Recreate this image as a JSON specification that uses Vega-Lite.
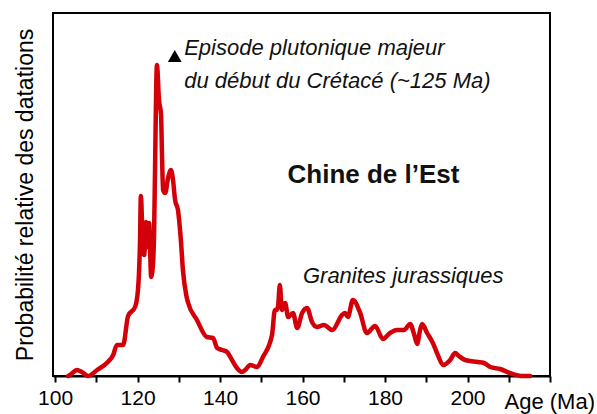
{
  "$schema": "https://vega.github.io/schema/vega-lite/v6.json",
  "width": 497,
  "height": 363,
  "autosize": {"type": "none"},
  "padding": {"left": 53, "top": 13, "right": 47, "bottom": 38},
  "background": "white",
  "config": {
    "view": {"stroke": "black", "strokeWidth": 2},
    "font": "Liberation Sans"
  },
  "datasets": {
    "curve": [
      {"age": 103.2, "p": 0}, {"age": 103.6, "p": 1}, {"age": 104.8, "p": 5}, {"age": 105.3, "p": 6},
      {"age": 106.5, "p": 4}, {"age": 108.0, "p": 0}, {"age": 110.2, "p": 6}, {"age": 112.8, "p": 14},
      {"age": 114.1, "p": 21}, {"age": 115.0, "p": 31}, {"age": 116.5, "p": 31}, {"age": 117.7, "p": 60},
      {"age": 119.4, "p": 69}, {"age": 120.1, "p": 86}, {"age": 120.6, "p": 136}, {"age": 120.8, "p": 180},
      {"age": 121.3, "p": 129}, {"age": 121.6, "p": 121}, {"age": 122.1, "p": 154}, {"age": 122.5, "p": 129},
      {"age": 122.8, "p": 153}, {"age": 123.3, "p": 99}, {"age": 123.8, "p": 116}, {"age": 124.0, "p": 141},
      {"age": 124.2, "p": 196}, {"age": 124.7, "p": 311}, {"age": 125.2, "p": 276}, {"age": 125.7, "p": 261},
      {"age": 125.9, "p": 226}, {"age": 126.2, "p": 186}, {"age": 126.7, "p": 183}, {"age": 127.4, "p": 198},
      {"age": 128.1, "p": 206}, {"age": 128.6, "p": 196}, {"age": 129.1, "p": 176}, {"age": 129.8, "p": 166},
      {"age": 130.5, "p": 136}, {"age": 131.0, "p": 106}, {"age": 131.8, "p": 81}, {"age": 132.2, "p": 74},
      {"age": 134.4, "p": 56}, {"age": 136.8, "p": 39}, {"age": 138.3, "p": 38}, {"age": 139.3, "p": 28},
      {"age": 140.5, "p": 26}, {"age": 141.7, "p": 24}, {"age": 142.9, "p": 16}, {"age": 144.1, "p": 8},
      {"age": 145.3, "p": 4}, {"age": 146.1, "p": 6}, {"age": 147.3, "p": 11}, {"age": 149.0, "p": 9},
      {"age": 150.4, "p": 19}, {"age": 152.6, "p": 41}, {"age": 153.3, "p": 66}, {"age": 153.8, "p": 66},
      {"age": 154.1, "p": 71}, {"age": 154.5, "p": 91}, {"age": 155.0, "p": 66}, {"age": 155.8, "p": 73},
      {"age": 156.5, "p": 59}, {"age": 157.7, "p": 63}, {"age": 158.7, "p": 48}, {"age": 159.9, "p": 63},
      {"age": 161.1, "p": 68}, {"age": 162.3, "p": 54}, {"age": 163.5, "p": 49}, {"age": 165.2, "p": 51},
      {"age": 167.2, "p": 46}, {"age": 169.6, "p": 61}, {"age": 170.3, "p": 63}, {"age": 171.0, "p": 59},
      {"age": 172.2, "p": 76}, {"age": 173.9, "p": 64}, {"age": 175.6, "p": 43}, {"age": 177.6, "p": 50},
      {"age": 179.5, "p": 37}, {"age": 181.2, "p": 43}, {"age": 182.9, "p": 46}, {"age": 184.6, "p": 46},
      {"age": 186.1, "p": 52}, {"age": 187.1, "p": 41}, {"age": 187.8, "p": 32}, {"age": 188.5, "p": 46},
      {"age": 189.0, "p": 52}, {"age": 190.2, "p": 43}, {"age": 191.6, "p": 33}, {"age": 192.8, "p": 21},
      {"age": 194.1, "p": 11}, {"age": 195.8, "p": 16}, {"age": 197.0, "p": 23}, {"age": 197.9, "p": 20},
      {"age": 199.4, "p": 16}, {"age": 202.5, "p": 14}, {"age": 204.0, "p": 13}, {"age": 205.5, "p": 9},
      {"age": 207.9, "p": 7}, {"age": 210.3, "p": 3}, {"age": 213.5, "p": 0}, {"age": 215.2, "p": 0}
    ],
    "labels": [
      {"age": 131.3, "p": 321, "text": "Episode plutonique majeur"},
      {"age": 131.3, "p": 288, "text": "du début du Crétacé (~125 Ma)"},
      {"age": 160.1, "p": 93, "text": "Granites jurassiques"}
    ],
    "title": [
      {"age": 177.2, "p": 193, "text": "Chine de l’Est"}
    ],
    "arrow": [
      {"age": 128.6, "p": 317}
    ]
  },
  "layer": [
    {
      "data": {"name": "curve"},
      "mark": {"type": "line", "color": "#d40009", "strokeWidth": 4.5, "interpolate": "monotone", "strokeJoin": "round", "strokeCap": "round"},
      "encoding": {
        "x": {
          "field": "age", "type": "quantitative",
          "scale": {"domain": [99.5, 220], "nice": false, "zero": false},
          "axis": {
            "values": [100, 105, 110, 115, 120, 125, 130, 135, 140, 145, 150, 155, 160, 165, 170, 175, 180, 185, 190, 195, 200, 205, 210, 215, 220],
            "labelExpr": "datum.value % 20 === 0 && datum.value <= 200 ? datum.label : ''",
            "labelFlush": false,
            "labelFontSize": 21,
            "labelColor": "black",
            "labelPadding": 5,
            "labelFont": "Liberation Sans",
            "tickColor": "black",
            "tickSize": 6,
            "tickWidth": 2,
            "domainColor": "black",
            "domainWidth": 2,
            "grid": false,
            "title": "Age (Ma)",
            "titleFont": "Liberation Sans",
            "titleFontSize": 22,
            "titleFontWeight": "normal",
            "titleColor": "black",
            "titleAlign": "left",
            "titleBaseline": "alphabetic",
            "titleX": 451,
            "titleY": 32
          }
        },
        "y": {
          "field": "p", "type": "quantitative",
          "scale": {"domain": [0, 363], "nice": false},
          "axis": {
            "labels": false,
            "ticks": false,
            "domain": false,
            "grid": false,
            "title": "Probabilité relative des datations",
            "titleFont": "Liberation Sans",
            "titleFontSize": 23,
            "titleFontWeight": "normal",
            "titleColor": "black",
            "titleAngle": 270,
            "titleBaseline": "alphabetic",
            "titleAlign": "center",
            "titleX": -21,
            "titleY": 181.5
          }
        }
      }
    },
    {
      "data": {"name": "labels"},
      "mark": {"type": "text", "align": "left", "baseline": "alphabetic", "fontStyle": "italic", "fontSize": 22, "font": "Liberation Sans", "color": "#111"},
      "encoding": {
        "x": {"field": "age", "type": "quantitative"},
        "y": {"field": "p", "type": "quantitative"},
        "text": {"field": "text"}
      }
    },
    {
      "data": {"name": "title"},
      "mark": {"type": "text", "align": "center", "baseline": "alphabetic", "fontWeight": "bold", "fontSize": 26, "font": "Liberation Sans", "color": "#111"},
      "encoding": {
        "x": {"field": "age", "type": "quantitative"},
        "y": {"field": "p", "type": "quantitative"},
        "text": {"field": "text"}
      }
    },
    {
      "data": {"name": "arrow"},
      "mark": {"type": "point", "shape": "triangle-left", "filled": true, "color": "black", "opacity": 1, "size": 190, "angle": -30},
      "encoding": {
        "x": {"field": "age", "type": "quantitative"},
        "y": {"field": "p", "type": "quantitative"}
      }
    }
  ]
}
